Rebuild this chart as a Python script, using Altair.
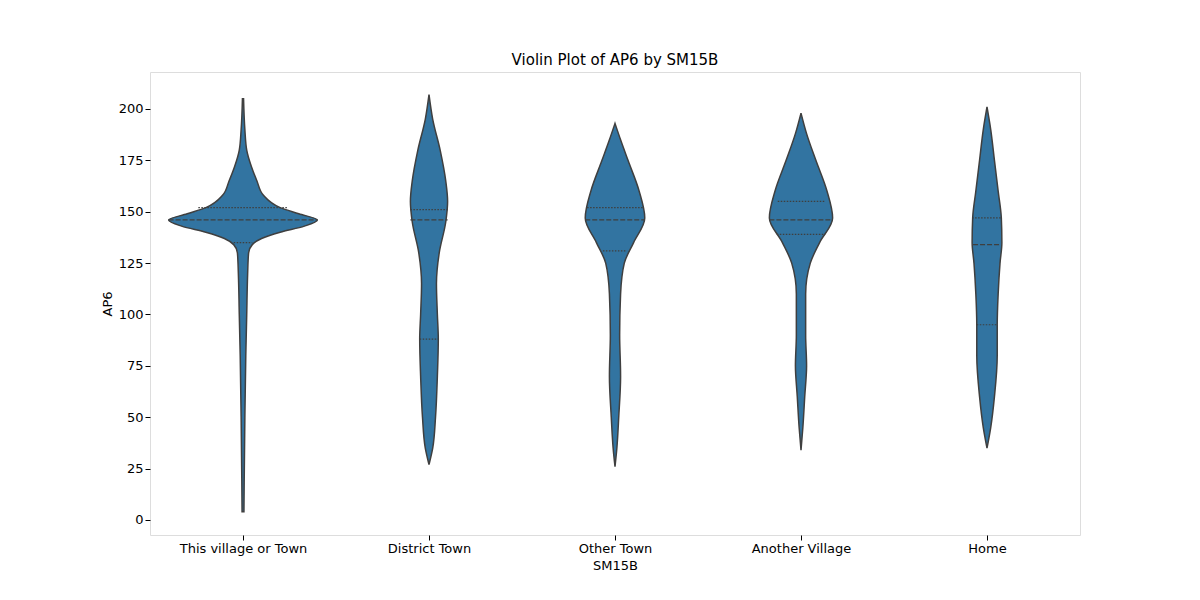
import pandas as pd
import altair as alt

categories = ["This village or Town", "District Town", "Other Town", "Another Village", "Home"]

# density profiles: (AP6 value, half-width in category units)
profile_y = [
    [4, 50, 80, 100, 120, 130, 134, 137, 140, 143, 146, 149, 152, 158, 165, 172, 180, 190, 205],
    [27, 35, 50, 70, 88, 100, 115, 130, 145, 155, 165, 180, 195, 207],
    [26, 35, 50, 70, 90, 110, 125, 135, 147, 160, 175, 185, 193],
    [34, 45, 60, 75, 90, 110, 125, 135, 147, 160, 175, 188, 198],
    [35, 45, 60, 80, 95, 110, 125, 135, 147, 160, 175, 190, 201],
]
profile_w = [
    [0.005, 0.01, 0.015, 0.02, 0.025, 0.03, 0.05, 0.1, 0.2, 0.33, 0.4, 0.3, 0.2, 0.11, 0.075, 0.045, 0.02, 0.01, 0.003],
    [0.0, 0.02, 0.035, 0.045, 0.05, 0.045, 0.04, 0.055, 0.09, 0.1, 0.09, 0.06, 0.02, 0.0],
    [0.0, 0.01, 0.02, 0.03, 0.025, 0.03, 0.05, 0.1, 0.16, 0.13, 0.07, 0.03, 0.0],
    [0.0, 0.01, 0.02, 0.03, 0.025, 0.025, 0.05, 0.1, 0.17, 0.14, 0.08, 0.03, 0.0],
    [0.0, 0.02, 0.04, 0.055, 0.055, 0.06, 0.07, 0.08, 0.077, 0.06, 0.04, 0.02, 0.0],
]

# quartiles (q1, median, q3) and the violin half-width at each
quartiles = [[135, 146, 152], [88, 146, 151], [131, 146, 152], [139, 146, 155], [95, 134, 147]]
quart_w = [[0.05, 0.4, 0.24], [0.05, 0.1, 0.1], [0.065, 0.16, 0.15], [0.13, 0.17, 0.125], [0.055, 0.075, 0.08]]

rows = []
for i, cat in enumerate(categories):
    for y, w in zip(profile_y[i], profile_w[i]):
        rows.append({"cat": cat, "ap6": y, "lo": i - w, "hi": i + w})
df = pd.DataFrame(rows)

qrows = []
for i, cat in enumerate(categories):
    for j, (y, w) in enumerate(zip(quartiles[i], quart_w[i])):
        qrows.append({"cat": cat, "ap6": y, "lo": i - w, "hi": i + w,
                      "kind": "median" if j == 1 else "quartile"})
dq = pd.DataFrame(qrows)

label_expr = "[" + ",".join("'%s'" % c for c in categories) + "][datum.value]"

x_axis = alt.X("lo:Q", scale=alt.Scale(domain=[-0.5, 4.5], nice=False, zero=False),
               axis=alt.Axis(title="SM15B", values=[0, 1, 2, 3, 4], labelExpr=label_expr,
                             grid=False, labelFontSize=13, titleFontSize=13, labelColor="black",
                             titleColor="black", titleFontWeight="normal", domain=False, tickColor="black"))
y_axis = alt.Y("ap6:Q", scale=alt.Scale(domain=[-7.3, 218], nice=False, zero=False),
               axis=alt.Axis(title="AP6", values=list(range(0, 201, 25)), grid=False, labelFontSize=13,
                             titleFontSize=13, labelColor="black", titleColor="black",
                             titleFontWeight="normal", domain=False, tickColor="black"))

violins = alt.Chart(df).mark_area(
    orient="horizontal", interpolate="monotone", color="#3274a1",
    stroke="#3f3f3f", strokeWidth=1.5
).encode(y=y_axis, x=x_axis, x2="hi:Q", detail="cat:N")

rules = alt.Chart(dq).mark_rule(color="#3f3f3f", strokeWidth=1.2).encode(
    y="ap6:Q", x="lo:Q", x2="hi:Q",
    strokeDash=alt.StrokeDash("kind:N", scale=alt.Scale(domain=["median", "quartile"],
                                                        range=[[5, 2], [1.5, 1.5]]), legend=None)
)

chart = (violins + rules).properties(
    width=930, height=463, autosize="none",
    padding={"left": 142, "top": 64, "right": 112, "bottom": 57},
    title=alt.Title("Violin Plot of AP6 by SM15B", fontSize=15, fontWeight="normal", color="black")
).configure_view(stroke="black", strokeWidth=1).configure(font="DejaVu Sans")

chart.save("out.html", embed_options={"renderer": "svg", "actions": False})
